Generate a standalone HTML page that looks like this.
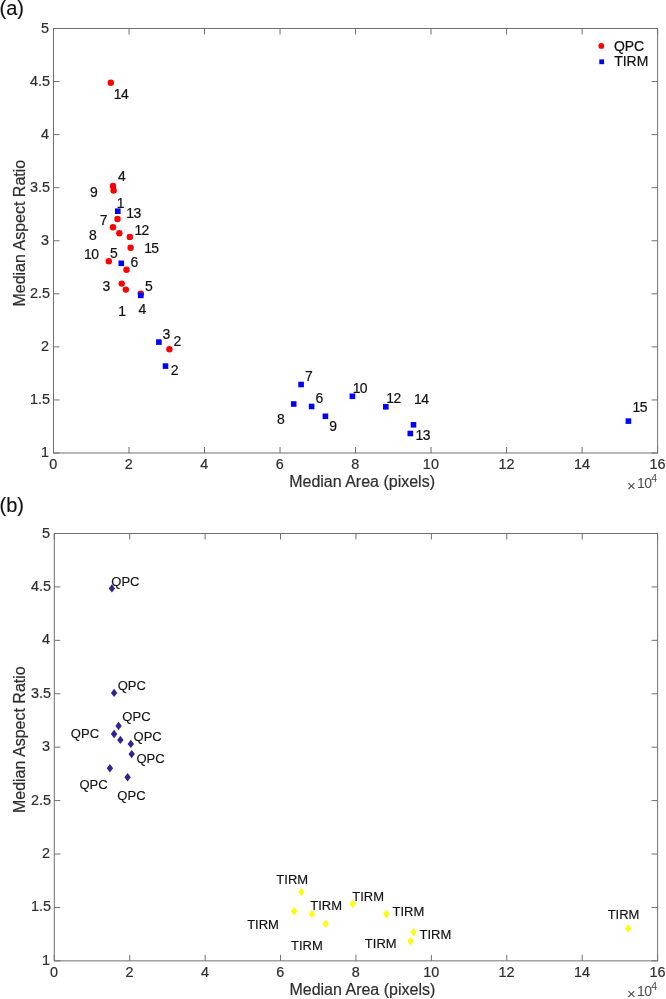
<!DOCTYPE html>
<html><head><meta charset="utf-8"><title>Figure</title>
<style>
html,body{margin:0;padding:0;background:#fff}
svg{display:block}
text{font-family:"Liberation Sans",Arial,sans-serif;stroke-width:0.15px}
.tk{font-size:14.4px;fill:#2e2e2e;stroke:#2e2e2e;stroke-width:0.2px}
.al{font-size:16px;fill:#2e2e2e;stroke:#2e2e2e;stroke-width:0.2px}
.ex{fill:#4a4a4a}
.pn{font-size:20px;fill:#111;stroke:#111}
.dl{font-size:14.4px;fill:#111;stroke:#111;stroke-width:0.2px}
.dl2{font-size:13.4px;fill:#111;stroke:#111}
</style></head><body>
<svg width="666" height="999" viewBox="0 0 666 999">
<rect width="666" height="999" fill="#fff"/>
<rect x="53.5" y="28.5" width="604.1" height="424.5" fill="none" stroke="#707070" stroke-width="1"/>
<path d="M53.50 453.0v-6M53.50 28.5v6M53.5 453.00h6M657.6 453.00h-6M129.01 453.0v-6M129.01 28.5v6M53.5 399.94h6M657.6 399.94h-6M204.53 453.0v-6M204.53 28.5v6M53.5 346.88h6M657.6 346.88h-6M280.04 453.0v-6M280.04 28.5v6M53.5 293.81h6M657.6 293.81h-6M355.55 453.0v-6M355.55 28.5v6M53.5 240.75h6M657.6 240.75h-6M431.06 453.0v-6M431.06 28.5v6M53.5 187.69h6M657.6 187.69h-6M506.58 453.0v-6M506.58 28.5v6M53.5 134.62h6M657.6 134.62h-6M582.09 453.0v-6M582.09 28.5v6M53.5 81.56h6M657.6 81.56h-6M657.60 453.0v-6M657.60 28.5v6M53.5 28.50h6M657.6 28.50h-6" stroke="#707070" stroke-width="1" fill="none"/>
<circle cx="110.8" cy="82.7" r="3.2" fill="#ff0000"/>
<circle cx="113.0" cy="186.0" r="3.2" fill="#ff0000"/>
<circle cx="113.6" cy="190.5" r="3.2" fill="#ff0000"/>
<circle cx="117.5" cy="219.0" r="3.2" fill="#ff0000"/>
<circle cx="113.0" cy="227.2" r="3.2" fill="#ff0000"/>
<circle cx="119.3" cy="233.3" r="3.2" fill="#ff0000"/>
<circle cx="129.8" cy="236.9" r="3.2" fill="#ff0000"/>
<circle cx="130.6" cy="247.8" r="3.2" fill="#ff0000"/>
<circle cx="108.8" cy="261.3" r="3.2" fill="#ff0000"/>
<circle cx="126.5" cy="269.7" r="3.2" fill="#ff0000"/>
<circle cx="121.7" cy="283.6" r="3.2" fill="#ff0000"/>
<circle cx="125.8" cy="289.6" r="3.2" fill="#ff0000"/>
<circle cx="140.8" cy="293.6" r="3.2" fill="#ff0000"/>
<circle cx="169.4" cy="349.3" r="3.2" fill="#ff0000"/>
<rect x="115.0" y="208.4" width="5.6" height="5.6" fill="#0000ff"/>
<rect x="118.5" y="260.5" width="5.6" height="5.6" fill="#0000ff"/>
<rect x="138.0" y="292.6" width="5.6" height="5.6" fill="#0000ff"/>
<rect x="156.1" y="339.3" width="5.6" height="5.6" fill="#0000ff"/>
<rect x="162.7" y="363.3" width="5.6" height="5.6" fill="#0000ff"/>
<rect x="298.3" y="381.7" width="5.6" height="5.6" fill="#0000ff"/>
<rect x="290.9" y="401.2" width="5.6" height="5.6" fill="#0000ff"/>
<rect x="308.8" y="403.7" width="5.6" height="5.6" fill="#0000ff"/>
<rect x="322.6" y="413.5" width="5.6" height="5.6" fill="#0000ff"/>
<rect x="349.6" y="393.5" width="5.6" height="5.6" fill="#0000ff"/>
<rect x="383.0" y="404.0" width="5.6" height="5.6" fill="#0000ff"/>
<rect x="410.7" y="422.0" width="5.6" height="5.6" fill="#0000ff"/>
<rect x="407.5" y="430.7" width="5.6" height="5.6" fill="#0000ff"/>
<rect x="625.6" y="418.3" width="5.6" height="5.6" fill="#0000ff"/>
<circle cx="601.3" cy="45.9" r="2.9" fill="#ff0000"/>
<rect x="599.3" y="59.4" width="4.8" height="4.8" fill="#0000ff"/>
<rect x="54.3" y="533.5" width="603.3000000000001" height="427.35" fill="none" stroke="#707070" stroke-width="1"/>
<path d="M54.30 960.85v-6M54.30 533.5v6M54.3 960.85h6M657.6 960.85h-6M129.71 960.85v-6M129.71 533.5v6M54.3 907.43h6M657.6 907.43h-6M205.12 960.85v-6M205.12 533.5v6M54.3 854.01h6M657.6 854.01h-6M280.54 960.85v-6M280.54 533.5v6M54.3 800.59h6M657.6 800.59h-6M355.95 960.85v-6M355.95 533.5v6M54.3 747.17h6M657.6 747.17h-6M431.36 960.85v-6M431.36 533.5v6M54.3 693.76h6M657.6 693.76h-6M506.78 960.85v-6M506.78 533.5v6M54.3 640.34h6M657.6 640.34h-6M582.19 960.85v-6M582.19 533.5v6M54.3 586.92h6M657.6 586.92h-6M657.60 960.85v-6M657.60 533.5v6M54.3 533.50h6M657.6 533.50h-6" stroke="#707070" stroke-width="1" fill="none"/>
<path d="M111.9 584.2L115.1 588.4L111.9 592.6L108.7 588.4Z" fill="#33228f"/>
<path d="M114.1 688.7L117.3 692.9L114.1 697.1L110.9 692.9Z" fill="#33228f"/>
<path d="M118.6 721.7L121.8 725.9L118.6 730.1L115.4 725.9Z" fill="#33228f"/>
<path d="M114.1 729.8L117.3 734.0L114.1 738.2L110.9 734.0Z" fill="#33228f"/>
<path d="M120.4 735.7L123.6 739.9L120.4 744.1L117.2 739.9Z" fill="#33228f"/>
<path d="M130.8 739.7L134.0 743.9L130.8 748.1L127.6 743.9Z" fill="#33228f"/>
<path d="M131.7 749.9L134.9 754.1L131.7 758.3L128.5 754.1Z" fill="#33228f"/>
<path d="M109.9 764.0L113.1 768.2L109.9 772.4L106.7 768.2Z" fill="#33228f"/>
<path d="M127.6 773.0L130.8 777.2L127.6 781.4L124.4 777.2Z" fill="#33228f"/>
<path d="M301.3 887.8L304.5 892.0L301.3 896.2L298.1 892.0Z" fill="#fcfd08"/>
<path d="M294.1 907.1L297.3 911.3L294.1 915.5L290.9 911.3Z" fill="#fcfd08"/>
<path d="M311.9 909.8L315.1 914.0L311.9 918.2L308.7 914.0Z" fill="#fcfd08"/>
<path d="M325.6 919.5L328.8 923.7L325.6 927.9L322.4 923.7Z" fill="#fcfd08"/>
<path d="M352.6 899.5L355.8 903.7L352.6 907.9L349.4 903.7Z" fill="#fcfd08"/>
<path d="M386.3 909.8L389.5 914.0L386.3 918.2L383.1 914.0Z" fill="#fcfd08"/>
<path d="M413.5 928.0L416.7 932.2L413.5 936.4L410.3 932.2Z" fill="#fcfd08"/>
<path d="M410.6 936.8L413.8 941.0L410.6 945.2L407.4 941.0Z" fill="#fcfd08"/>
<path d="M628.2 924.2L631.4 928.4L628.2 932.6L625.0 928.4Z" fill="#fcfd08"/>
<g transform="rotate(0.002)">
<text x="-0.5" y="14.6" class="pn">(a)</text>
<text x="49.0" y="457.0" text-anchor="end" class="tk">1</text>
<text x="50.1" y="403.9" text-anchor="end" class="tk">1.5</text>
<text x="49.0" y="350.9" text-anchor="end" class="tk">2</text>
<text x="50.1" y="297.8" text-anchor="end" class="tk">2.5</text>
<text x="49.0" y="244.8" text-anchor="end" class="tk">3</text>
<text x="50.1" y="191.7" text-anchor="end" class="tk">3.5</text>
<text x="49.0" y="138.6" text-anchor="end" class="tk">4</text>
<text x="50.1" y="85.6" text-anchor="end" class="tk">4.5</text>
<text x="49.0" y="32.5" text-anchor="end" class="tk">5</text>
<text x="53.35" y="469.1" text-anchor="middle" class="tk">0</text>
<text x="128.86" y="469.1" text-anchor="middle" class="tk">2</text>
<text x="204.38" y="469.1" text-anchor="middle" class="tk">4</text>
<text x="279.89" y="469.1" text-anchor="middle" class="tk">6</text>
<text x="355.40" y="469.1" text-anchor="middle" class="tk">8</text>
<text x="430.91" y="469.1" text-anchor="middle" class="tk">10</text>
<text x="506.43" y="469.1" text-anchor="middle" class="tk">12</text>
<text x="581.94" y="469.1" text-anchor="middle" class="tk">14</text>
<text x="657.45" y="469.1" text-anchor="middle" class="tk">16</text>
<text x="362.1" y="487.1" text-anchor="middle" class="al">Median Area (pixels)</text>
<text transform="translate(25.2 233.2) rotate(-90)" text-anchor="middle" class="al">Median Aspect Ratio</text>
<text x="627.1" y="490.9" class="ex" font-size="15">×</text>
<text x="637.0" y="488.1" class="ex" font-size="14" letter-spacing="-0.4">10</text>
<text x="651.3" y="481.9" class="ex" font-size="10.5">4</text>
<text transform="translate(613.90 50.5) scale(0.97 1)" class="dl">QPC</text>
<text transform="translate(614.20 65.7) scale(0.97 1)" class="dl">TIRM</text>
<text transform="translate(113.70 99.3) scale(0.97 1)" class="dl" letter-spacing="-0.6">14</text>
<text transform="translate(118.10 181.1) scale(0.97 1)" class="dl">4</text>
<text transform="translate(90.00 196.9) scale(0.97 1)" class="dl">9</text>
<text transform="translate(116.70 207.6) scale(0.97 1)" class="dl">1</text>
<text transform="translate(126.30 217.7) scale(0.97 1)" class="dl" letter-spacing="-0.6">13</text>
<text transform="translate(99.70 224.5) scale(0.97 1)" class="dl">7</text>
<text transform="translate(134.40 234.8) scale(0.97 1)" class="dl" letter-spacing="-0.6">12</text>
<text transform="translate(89.00 239.9) scale(0.97 1)" class="dl">8</text>
<text transform="translate(144.20 252.8) scale(0.97 1)" class="dl" letter-spacing="-0.6">15</text>
<text transform="translate(84.10 258.7) scale(0.97 1)" class="dl" letter-spacing="-0.6">10</text>
<text transform="translate(110.00 257.5) scale(0.97 1)" class="dl">5</text>
<text transform="translate(130.40 266.7) scale(0.97 1)" class="dl">6</text>
<text transform="translate(102.40 291.0) scale(0.97 1)" class="dl">3</text>
<text transform="translate(145.10 290.6) scale(0.97 1)" class="dl">5</text>
<text transform="translate(118.30 315.8) scale(0.97 1)" class="dl">1</text>
<text transform="translate(138.50 313.8) scale(0.97 1)" class="dl">4</text>
<text transform="translate(162.50 338.6) scale(0.97 1)" class="dl">3</text>
<text transform="translate(173.40 345.5) scale(0.97 1)" class="dl">2</text>
<text transform="translate(170.80 375.0) scale(0.97 1)" class="dl">2</text>
<text transform="translate(304.90 381.0) scale(0.97 1)" class="dl">7</text>
<text transform="translate(315.60 403.4) scale(0.97 1)" class="dl">6</text>
<text transform="translate(276.90 424.3) scale(0.97 1)" class="dl">8</text>
<text transform="translate(329.20 430.9) scale(0.97 1)" class="dl">9</text>
<text transform="translate(352.70 392.8) scale(0.97 1)" class="dl" letter-spacing="-0.6">10</text>
<text transform="translate(386.25 403.0) scale(0.97 1)" class="dl" letter-spacing="-0.6">12</text>
<text transform="translate(414.05 404.2) scale(0.97 1)" class="dl" letter-spacing="-0.6">14</text>
<text transform="translate(415.60 439.8) scale(0.97 1)" class="dl" letter-spacing="-0.6">13</text>
<text transform="translate(632.50 412.4) scale(0.97 1)" class="dl" letter-spacing="-0.6">15</text>
<text x="-0.5" y="511.9" class="pn">(b)</text>
<text x="50.0" y="964.9" text-anchor="end" class="tk">1</text>
<text x="51.0" y="911.4" text-anchor="end" class="tk">1.5</text>
<text x="50.0" y="858.0" text-anchor="end" class="tk">2</text>
<text x="51.0" y="804.6" text-anchor="end" class="tk">2.5</text>
<text x="50.0" y="751.2" text-anchor="end" class="tk">3</text>
<text x="51.0" y="697.8" text-anchor="end" class="tk">3.5</text>
<text x="50.0" y="644.3" text-anchor="end" class="tk">4</text>
<text x="51.0" y="590.9" text-anchor="end" class="tk">4.5</text>
<text x="50.0" y="537.5" text-anchor="end" class="tk">5</text>
<text x="54.15" y="977.0" text-anchor="middle" class="tk">0</text>
<text x="129.56" y="977.0" text-anchor="middle" class="tk">2</text>
<text x="204.97" y="977.0" text-anchor="middle" class="tk">4</text>
<text x="280.39" y="977.0" text-anchor="middle" class="tk">6</text>
<text x="355.80" y="977.0" text-anchor="middle" class="tk">8</text>
<text x="431.21" y="977.0" text-anchor="middle" class="tk">10</text>
<text x="506.63" y="977.0" text-anchor="middle" class="tk">12</text>
<text x="582.04" y="977.0" text-anchor="middle" class="tk">14</text>
<text x="657.45" y="977.0" text-anchor="middle" class="tk">16</text>
<text x="362.4" y="995.0" text-anchor="middle" class="al">Median Area (pixels)</text>
<text transform="translate(25.2 739.7) rotate(-90)" text-anchor="middle" class="al">Median Aspect Ratio</text>
<text x="627.1" y="998.8" class="ex" font-size="15">×</text>
<text x="637.0" y="996.0" class="ex" font-size="14" letter-spacing="-0.4">10</text>
<text x="651.3" y="989.8" class="ex" font-size="10.5">4</text>
<text transform="translate(111.30 585.6) scale(0.97 1)" class="dl2">QPC</text>
<text transform="translate(117.70 690.0) scale(0.97 1)" class="dl2">QPC</text>
<text transform="translate(122.40 720.6) scale(0.97 1)" class="dl2">QPC</text>
<text transform="translate(70.90 738.3) scale(0.97 1)" class="dl2">QPC</text>
<text transform="translate(133.60 741.0) scale(0.97 1)" class="dl2">QPC</text>
<text transform="translate(136.50 762.6) scale(0.97 1)" class="dl2">QPC</text>
<text transform="translate(79.50 788.7) scale(0.97 1)" class="dl2">QPC</text>
<text transform="translate(117.40 800.1) scale(0.97 1)" class="dl2">QPC</text>
<text transform="translate(276.40 883.9) scale(0.97 1)" class="dl2">TIRM</text>
<text transform="translate(310.30 909.7) scale(0.97 1)" class="dl2">TIRM</text>
<text transform="translate(247.20 929.0) scale(0.97 1)" class="dl2">TIRM</text>
<text transform="translate(291.00 950.0) scale(0.97 1)" class="dl2">TIRM</text>
<text transform="translate(352.30 901.4) scale(0.97 1)" class="dl2">TIRM</text>
<text transform="translate(392.60 915.8) scale(0.97 1)" class="dl2">TIRM</text>
<text transform="translate(419.60 938.9) scale(0.97 1)" class="dl2">TIRM</text>
<text transform="translate(364.90 947.9) scale(0.97 1)" class="dl2">TIRM</text>
<text transform="translate(607.70 918.5) scale(0.97 1)" class="dl2">TIRM</text>
</g>
</svg>
</body></html>
